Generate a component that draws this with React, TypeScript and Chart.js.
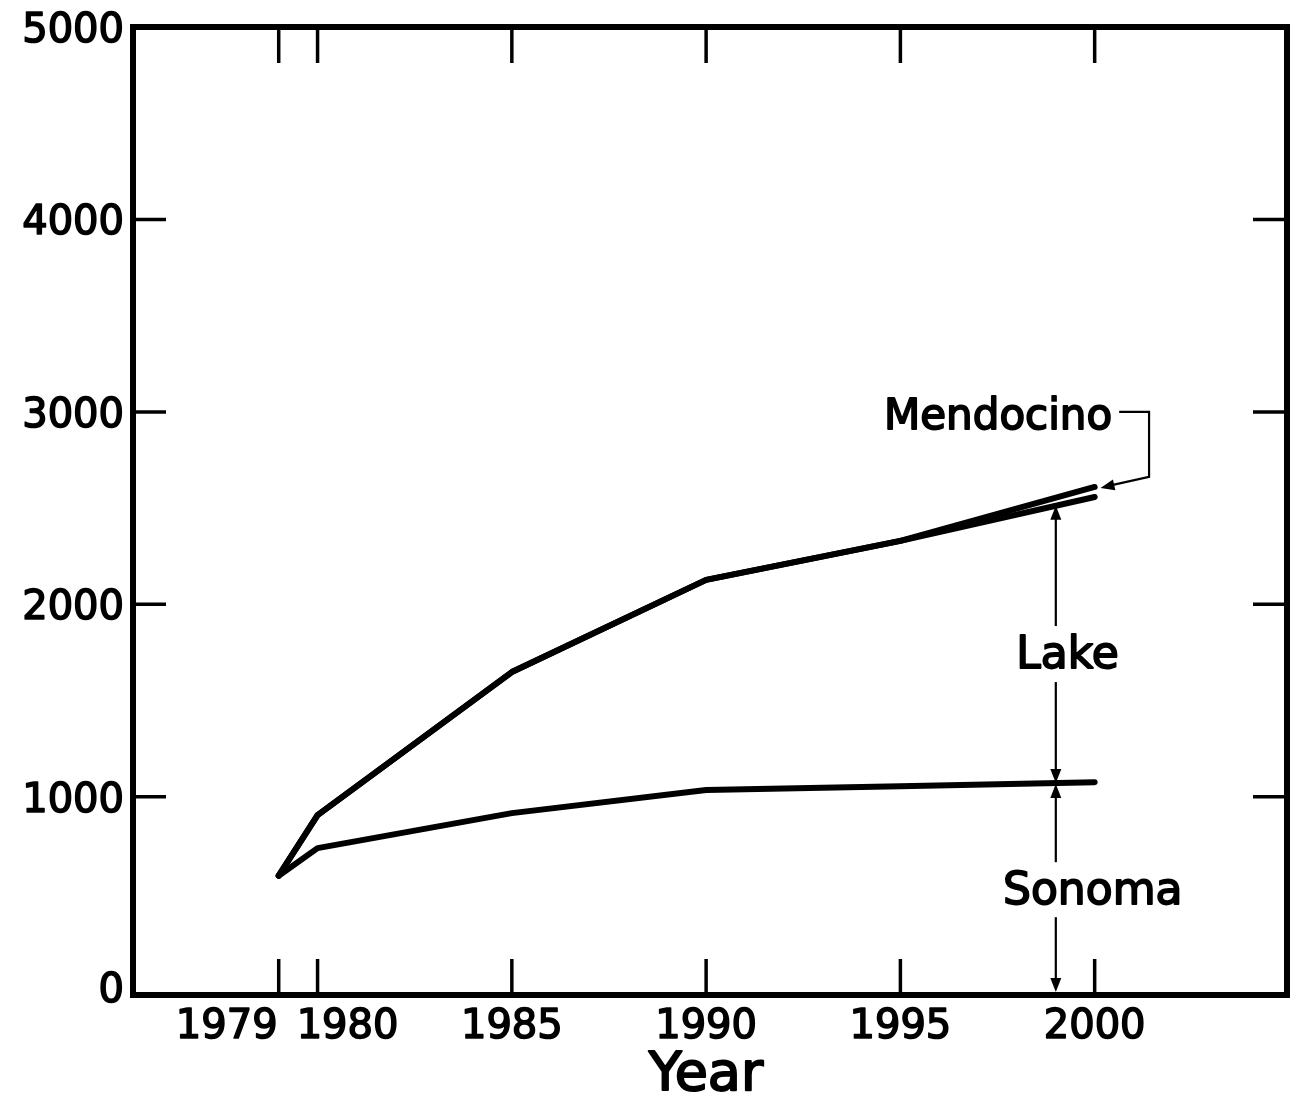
import React, { useEffect, useRef } from "react";
import { Chart, registerables } from "chart.js";

Chart.register(...registerables);

// ---- data ----
const years = [1979, 1980, 1985, 1990, 1995, 2000];
const sonomaTop = [590, 733, 915, 1035, 1055, 1076];
const lakeTop = [590, 905, 1648, 2127, 2330, 2558];
const mendocinoTop = [590, 905, 1648, 2127, 2330, 2610];
const xTickYears = [1979, 1980, 1985, 1990, 1995, 2000];
const yTickValues = [0, 1000, 2000, 3000, 4000, 5000];
const yInnerTicks = [1000, 2000, 3000, 4000];
const regionNames = ["Mendocino", "Lake", "Sonoma"];
const xTitle = "Year";

const FONT = "'DejaVu Sans', sans-serif";

function pts(ys: number[]) {
  return years.map((yr, i) => ({ x: yr, y: ys[i] }));
}

function arrowHead(ctx: CanvasRenderingContext2D, fx: number, fy: number, tx: number, ty: number) {
  const dx = tx - fx, dy = ty - fy;
  const len = Math.hypot(dx, dy) || 1;
  const ux = dx / len, uy = dy / len;
  const L = 14, W = 5.5;
  const bx = tx - ux * L, by = ty - uy * L;
  ctx.beginPath();
  ctx.moveTo(tx, ty);
  ctx.lineTo(bx - uy * W, by + ux * W);
  ctx.lineTo(bx + uy * W, by - ux * W);
  ctx.closePath();
  ctx.fill();
}

function seg(ctx: CanvasRenderingContext2D, x1: number, y1: number, x2: number, y2: number) {
  ctx.beginPath();
  ctx.moveTo(x1, y1);
  ctx.lineTo(x2, y2);
  ctx.stroke();
}

function text(ctx: CanvasRenderingContext2D, s: string, px: number, py: number, weight: number) {
  ctx.save();
  ctx.lineWidth = weight;
  ctx.lineJoin = "round";
  ctx.strokeText(s, px, py);
  ctx.fillText(s, px, py);
  ctx.restore();
}

const framePlugin = {
  id: "frameAndNotes",
  afterDatasetsDraw(chart: any) {
    const { ctx, chartArea: a, scales } = chart;
    const x = scales.x, y = scales.y;
    ctx.save();
    ctx.strokeStyle = "#000";
    ctx.fillStyle = "#000";

    // frame
    ctx.lineWidth = 6;
    ctx.lineJoin = "miter";
    ctx.strokeRect(a.left, a.top, a.right - a.left, a.bottom - a.top);

    // inward ticks
    ctx.lineWidth = 3.5;
    ctx.lineCap = "butt";
    for (const yr of xTickYears) {
      const px = x.getPixelForValue(yr);
      seg(ctx, px, a.top, px, a.top + 36);
      seg(ctx, px, a.bottom, px, a.bottom - 36);
    }
    for (const v of yInnerTicks) {
      const py = y.getPixelForValue(v);
      seg(ctx, a.left, py, a.left + 33, py);
      seg(ctx, a.right, py, a.right - 34, py);
    }

    // y tick labels
    ctx.font = `40px ${FONT}`;
    ctx.textAlign = "right";
    ctx.textBaseline = "alphabetic";
    for (const v of yTickValues) {
      const py = Math.min(y.getPixelForValue(v), a.bottom - 8);
      text(ctx, String(v), a.left - 9, py + 15, 1.6);
    }

    // x tick labels
    ctx.textAlign = "center";
    const shift: Record<number, number> = { 1979: -52, 1980: 30 };
    for (const yr of xTickYears) {
      const px = x.getPixelForValue(yr);
      text(ctx, String(yr), px + (shift[yr] || 0), a.bottom + 43, 1.6);
    }

    // axis title
    ctx.font = `54px ${FONT}`;
    text(ctx, xTitle, (a.left + a.right) / 2 - 4, a.bottom + 95, 2);

    // annotations
    const arrowYear = 1999;
    const ax = x.getPixelForValue(arrowYear);
    ctx.lineWidth = 2.2;

    // Lake
    const lakeArrowTop = y.getPixelForValue(2512);
    const sonomaArrowTop = y.getPixelForValue(1072);
    const lakeCy = y.getPixelForValue(1752);
    seg(ctx, ax, lakeCy - 26, ax, lakeArrowTop + 4);
    arrowHead(ctx, ax, lakeCy, ax, lakeArrowTop);
    seg(ctx, ax, lakeCy + 30, ax, sonomaArrowTop - 4);
    arrowHead(ctx, ax, lakeCy, ax, sonomaArrowTop);
    ctx.font = `44px ${FONT}`;
    ctx.textAlign = "center";
    text(ctx, regionNames[1], x.getPixelForValue(1999.3), lakeCy + 16, 1.8);

    // Sonoma
    const sonCy = y.getPixelForValue(525);
    const zeroPx = a.bottom - 3;
    seg(ctx, ax, sonCy - 26, ax, sonomaArrowTop + 4);
    arrowHead(ctx, ax, sonCy, ax, sonomaArrowTop + 1);
    seg(ctx, ax, sonCy + 29, ax, zeroPx - 4);
    arrowHead(ctx, ax, sonCy, ax, zeroPx);
    text(ctx, regionNames[2], x.getPixelForValue(1999.95), sonCy + 16, 1.8);

    // Mendocino bracket
    ctx.font = `42px ${FONT}`;
    ctx.textAlign = "right";
    const mCy = y.getPixelForValue(2990);
    text(ctx, regionNames[0], x.getPixelForValue(2000.45), mCy + 15, 1.8);
    const bx1 = x.getPixelForValue(2000.63);
    const bx2 = x.getPixelForValue(2001.4);
    const by1 = y.getPixelForValue(3000);
    const by2 = y.getPixelForValue(2662);
    const tx = x.getPixelForValue(2000.15);
    const ty = y.getPixelForValue(2605);
    ctx.lineWidth = 2.2;
    ctx.lineJoin = "miter";
    ctx.beginPath();
    ctx.moveTo(bx1, by1);
    ctx.lineTo(bx2, by1);
    ctx.lineTo(bx2, by2);
    ctx.lineTo(tx + 8, ty - 2);
    ctx.stroke();
    arrowHead(ctx, bx2, by2, tx, ty);

    ctx.restore();
  },
};

export default function App() {
  const ref = useRef<HTMLCanvasElement | null>(null);

  useEffect(() => {
    if (!ref.current) return;
    const line = (label: string, ys: number[]) => ({
      label,
      data: pts(ys),
      borderColor: "#000",
      backgroundColor: "#000",
      borderWidth: 6,
      pointRadius: 0,
      tension: 0,
      fill: false,
      borderCapStyle: "round" as const,
      borderJoinStyle: "round" as const,
    });
    const chart = new Chart(ref.current, {
      type: "line",
      data: {
        datasets: [
          line("Sonoma", sonomaTop),
          line("Lake", lakeTop),
          line("Mendocino", mendocinoTop),
        ],
      },
      options: {
        animation: false,
        responsive: false,
        devicePixelRatio: 1,
        layout: { padding: { top: 27, right: 9, left: 0, bottom: 0 } },
        plugins: { legend: { display: false }, tooltip: { enabled: false } },
        scales: {
          x: {
            type: "linear",
            min: 1975.25,
            max: 2004.95,
            grid: { display: false },
            border: { display: false },
            ticks: { display: false },
            afterFit: (s: any) => {
              s.height = 111;
            },
          },
          y: {
            type: "linear",
            min: -30,
            max: 5000,
            grid: { display: false },
            border: { display: false },
            ticks: { display: false },
            afterFit: (s: any) => {
              s.width = 133;
            },
          },
        },
      },
      plugins: [framePlugin],
    });
    return () => chart.destroy();
  }, []);

  return (
    <div style={{ position: "absolute", left: 0, top: 0, width: 1296, height: 1106, background: "#fff" }}>
      <canvas ref={ref} width={1296} height={1106} style={{ display: "block" }} />
    </div>
  );
}
